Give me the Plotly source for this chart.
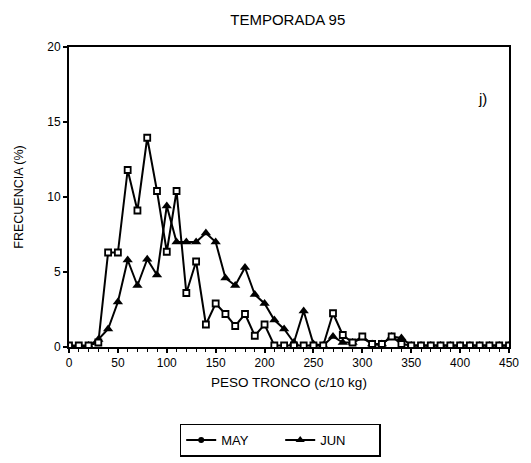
import plotly.graph_objects as go

peso = list(range(0, 460, 10))
may = [0.1, 0.1, 0.1, 0.3, 6.3, 6.3, 11.8, 9.1, 13.95, 10.4,
       6.35, 10.4, 3.6, 5.7, 1.5, 2.9, 2.2, 1.4, 2.2, 0.75,
       1.5, 0.1, 0.1, 0.1, 0.1, 0.1, 0.1, 2.25, 0.8, 0.3,
       0.7, 0.2, 0.2, 0.7, 0.2, 0.1, 0.1, 0.1, 0.1, 0.1,
       0.1, 0.1, 0.1, 0.1, 0.1, 0.1]
jun = [0.0, 0.0, 0.1, 0.5, 1.2, 3.0, 5.8, 4.1, 5.85, 4.8,
       9.4, 7.0, 7.0, 7.0, 7.6, 7.0, 4.6, 4.1, 5.3, 3.5,
       2.9, 1.8, 1.2, 0.3, 2.4, 0.2, 0.1, 0.7, 0.3, 0.3,
       0.6, 0.2, 0.2, 0.7, 0.6, 0.1, 0.1, 0.1, 0.1, 0.1,
       0.1, 0.1, 0.1, 0.1, 0.1, 0.1]
series_names = ["MAY", "JUN"]
yticks = [0, 5, 10, 15, 20]

font = "Liberation Sans, Arial, sans-serif"

fig = go.Figure()
fig.add_trace(go.Scatter(
    x=peso, y=jun, mode="lines+markers", showlegend=False,
    line=dict(color="black", width=2),
    marker=dict(symbol="triangle-up", size=9, color="black"),
))
fig.add_trace(go.Scatter(
    x=peso, y=may, mode="lines+markers", showlegend=False,
    line=dict(color="black", width=2),
    marker=dict(symbol="square", size=6, color="white",
                line=dict(color="black", width=1.8)),
))
# legend entries
fig.add_trace(go.Scatter(
    x=[None], y=[None], mode="lines+markers", name=series_names[0],
    line=dict(color="black", width=2),
    marker=dict(symbol="circle", size=6, color="black"),
))
fig.add_trace(go.Scatter(
    x=[None], y=[None], mode="lines+markers", name=series_names[1],
    line=dict(color="black", width=2),
    marker=dict(symbol="triangle-up", size=8, color="black"),
))

fig.update_layout(
    width=531, height=463,
    margin=dict(l=69, r=22, t=47, b=116, autoexpand=False),
    paper_bgcolor="white", plot_bgcolor="white",
    font=dict(family=font, color="black", size=12),
    title=dict(text="TEMPORADA 95", x=0.542, xanchor="center",
               y=0.957, yanchor="middle",
               font=dict(family=font, size=15, color="black")),
    xaxis=dict(
        range=[0, 450], tickmode="array", tickvals=list(range(0, 451, 50)),
        ticks="outside", ticklen=4, tickwidth=1.5, tickcolor="black",
        minor=dict(tickmode="array", tickvals=list(range(0, 451, 10)),
                   ticks="outside", ticklen=3, tickwidth=1.2, tickcolor="black"),
        showline=True, linecolor="black", linewidth=2, mirror=True,
        showgrid=False, zeroline=False, automargin=False,
        tickfont=dict(size=12, family=font),
        title=dict(text="PESO TRONCO (c/10 kg)", standoff=8,
                   font=dict(size=13.5, family=font)),
    ),
    yaxis=dict(
        range=[0, 20], tickvals=yticks,
        ticks="outside", ticklen=4, tickwidth=1.5, tickcolor="black",
        showline=True, linecolor="black", linewidth=2, mirror=True,
        showgrid=False, zeroline=False, automargin=False,
        tickfont=dict(size=12, family=font),
        title=dict(text="FRECUENCIA (%)", standoff=21,
                   font=dict(size=12.5, family=font, color="black")),
    ),
    legend=dict(orientation="h", x=0.48, xanchor="center", y=-0.255,
                yanchor="top", bordercolor="black", borderwidth=1.5,
                font=dict(size=13, family=font), entrywidth=54,
                entrywidthmode="pixels", bgcolor="white"),
    annotations=[dict(text="j)", x=0.955, y=0.865, xref="paper", yref="paper",
                      showarrow=False, font=dict(size=15, family=font))],
)

fig.write_html("out.html", config={"displayModeBar": False},
               post_script="document.body.style.margin='0';")
